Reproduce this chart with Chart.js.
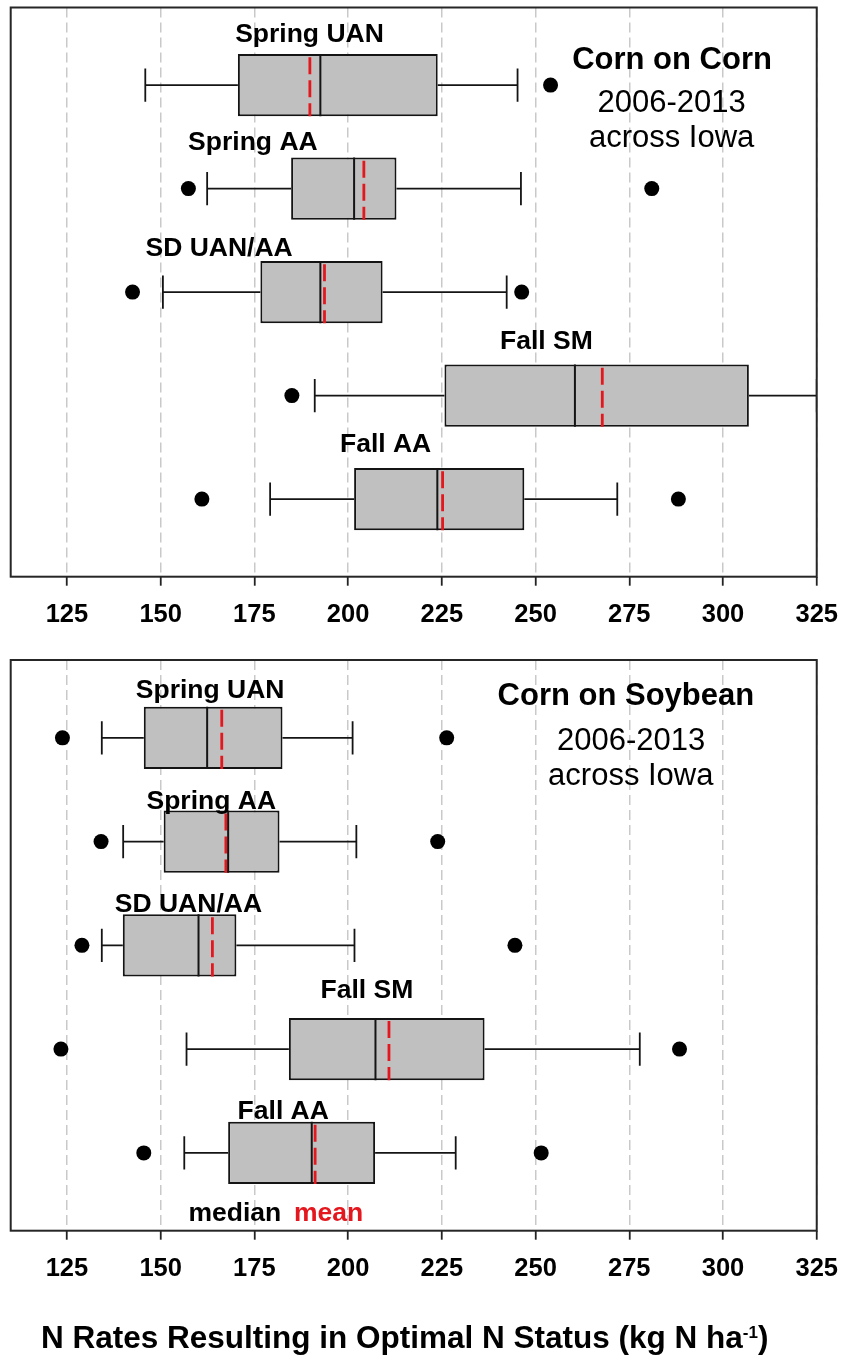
<!DOCTYPE html>
<html>
<head>
<meta charset="utf-8">
<title>N Rates Resulting in Optimal N Status</title>
<script src="https://cdn.jsdelivr.net/npm/chart.js@4/dist/chart.umd.min.js"></script>
<style>
  html, body { margin: 0; padding: 0; background: #ffffff; }
  #wrap { position: relative; width: 852px; height: 1356px; overflow: hidden; }
  #cc { position: absolute; left: 0; top: 0; }
  #cs { position: absolute; left: 0; top: 640px; }
  #xtitle {
    position: absolute; left: 41px; top: 1322px; white-space: nowrap;
    font: bold 31.5px "Liberation Sans", Arial, sans-serif; line-height: 31px; color: #000;
  }
  #xtitle sup { font-size: 17px; line-height: 0; vertical-align: 10px; }
</style>
</head>
<body>
<div id="wrap">
  <canvas id="cc" width="852" height="640"></canvas>
  <canvas id="cs" width="852" height="716"></canvas>
  <div id="xtitle">N Rates Resulting in Optimal N Status (kg N ha<sup>-1</sup>)</div>
</div>
<script>
// ---- axis ----
const X_MIN = 110;
const X_MAX = 325;
const tickValues = [125, 150, 175, 200, 225, 250, 275, 300, 325];
const treatments = ['Spring UAN', 'Spring AA', 'SD UAN/AA', 'Fall SM', 'Fall AA'];

// ---- Corn on Corn (kg N/ha) ----
const ccWhiskerLow  = [145.9, 162.4, 150.6, 191.1, 179.2];
const ccQ1          = [170.6, 184.8, 176.6, 225.7, 201.6];
const ccMedian      = [192.6, 201.6, 192.6, 260.5, 223.8];
const ccMean        = [189.8, 204.2, 193.7, 267.8, 225.2];
const ccQ3          = [223.9, 212.9, 209.2, 306.9, 247.0];
const ccWhiskerHigh = [245.2, 246.1, 242.3, 325.0, 271.8];
const ccOutliers    = [[254.0], [157.4, 281.0], [142.5, 246.3], [185.0], [161.0, 288.1]];

// ---- Corn on Soybean (kg N/ha) ----
const csWhiskerLow  = [134.3, 140.0, 134.3, 156.9, 156.3];
const csQ1          = [145.5, 150.8, 139.9, 184.2, 168.0];
const csMedian      = [162.4, 168.0, 160.1, 207.3, 190.3];
const csMean        = [166.3, 167.4, 163.8, 210.9, 191.2];
const csQ3          = [182.5, 181.7, 170.2, 236.4, 207.2];
const csWhiskerHigh = [201.2, 202.2, 201.7, 277.8, 228.7];
const csOutliers    = [[123.8, 226.3], [134.1, 223.9], [129.0, 244.5], [123.4, 288.4], [145.5, 251.5]];

const FONT = '"Liberation Sans", Arial, sans-serif';
const RED = '#e3171d';
const INK = '#141414';
Chart.defaults.font.family = FONT;

const BOX_HALF = 0.3;   // half box height in row units
const CAP_HALF = 0.16;  // half whisker-cap height in row units

function seg(x1, y1, x2, y2, color, width, dash) {
  return {
    type: 'scatter', showLine: true,
    data: [{ x: x1, y: y1 }, { x: x2, y: y2 }],
    borderColor: color, borderWidth: width, borderDash: dash || [],
    pointRadius: 0, pointHoverRadius: 0, order: 0
  };
}

function boxDatasets(s) {
  const ds = [];
  // boxes: floating horizontal bars from Q1 to Q3
  ds.push({
    type: 'bar', indexAxis: 'y',
    data: s.q1.map((v, i) => ({ x: [v, s.q3[i]], y: i })),
    backgroundColor: '#c0c0c0', borderColor: INK, borderWidth: 2,
    borderSkipped: false, barPercentage: 0.6, categoryPercentage: 1, order: 5
  });
  treatments.forEach((_, i) => {
    // whiskers and caps
    ds.push(seg(s.lo[i], i, s.q1[i], i, INK, 1.7));
    ds.push(seg(s.q3[i], i, s.hi[i], i, INK, 1.7));
    ds.push(seg(s.lo[i], i - CAP_HALF, s.lo[i], i + CAP_HALF, INK, 1.8));
    ds.push(seg(s.hi[i], i - CAP_HALF, s.hi[i], i + CAP_HALF, INK, 1.8));
    // median (solid black) and mean (dashed red)
    ds.push(seg(s.med[i], i - BOX_HALF, s.med[i], i + BOX_HALF, INK, 2));
    ds.push(seg(s.mean[i], i - BOX_HALF + 0.03, s.mean[i], i + BOX_HALF, RED, 2.8, [17, 6]));
  });
  // outliers
  ds.push({
    type: 'scatter',
    data: s.out.flatMap((arr, i) => arr.map(v => ({ x: v, y: i }))),
    pointRadius: 7.5, pointHoverRadius: 7.5, pointBackgroundColor: '#000',
    pointBorderWidth: 0, showLine: false, order: 0
  });
  return ds;
}

// text placed in data coordinates
const panelText = {
  id: 'panelText',
  afterDatasetsDraw(chart, args, opts) {
    const { ctx, scales: { x, y } } = chart;
    ctx.save();
    ctx.textAlign = 'center';
    ctx.textBaseline = 'alphabetic';
    for (const t of opts.items) {
      ctx.font = (t.bold ? 'bold ' : '') + t.size + 'px ' + FONT;
      ctx.fillStyle = t.color || '#000';
      ctx.fillText(t.text, x.getPixelForValue(t.x), y.getPixelForValue(t.y));
    }
    ctx.restore();
  }
};

// frame around the plotting area
const plotFrame = {
  id: 'plotFrame',
  afterDatasetsDraw(chart) {
    const { ctx, chartArea: a } = chart;
    ctx.save();
    ctx.strokeStyle = '#262626';
    ctx.lineWidth = 2;
    ctx.strokeRect(a.left, a.top, a.right - a.left, a.bottom - a.top);
    ctx.restore();
  }
};

function makePanel(id, stats, labels, padTop, axisHeight) {
  return new Chart(document.getElementById(id), {
    type: 'scatter',
    data: { datasets: boxDatasets(stats) },
    options: {
      responsive: false, animation: false, devicePixelRatio: 1,
      layout: { padding: { left: 10.7, right: 26.3, top: padTop, bottom: 0 } },
      scales: {
        x: {
          type: 'linear', min: X_MIN, max: X_MAX, offset: false,
          afterBuildTicks: s => { s.ticks = tickValues.map(v => ({ value: v })); },
          afterFit: s => { s.height = axisHeight; },
          grid: {
            color: '#c9c9c9', lineWidth: 1.5, offset: false,
            tickColor: '#222', tickWidth: 1.8, tickLength: 9, tickBorderDash: []
          },
          border: { display: false, dash: [10, 5] },
          ticks: {
            color: '#000', padding: 14, maxRotation: 0, autoSkip: false,
            font: { size: 25.5, weight: 'bold' }
          }
        },
        y: {
          type: 'linear', display: false, reverse: true, offset: false,
          grid: { offset: false }, min: -0.75, max: 4.75,
          // one tick per treatment row
          afterBuildTicks: s => { s.ticks = treatments.map((_, i) => ({ value: i })); }
        }
      },
      plugins: {
        legend: { display: false },
        tooltip: { enabled: false },
        panelText: { items: labels }
      }
    },
    plugins: [panelText, plotFrame]
  });
}

makePanel('cc', {
  lo: ccWhiskerLow, q1: ccQ1, med: ccMedian, mean: ccMean, q3: ccQ3, hi: ccWhiskerHigh, out: ccOutliers
}, [
  { text: treatments[0], x: 189.7, y: -0.413, size: 26.5, bold: true },
  { text: treatments[1], x: 174.6, y: 0.631, size: 26.5, bold: true },
  { text: treatments[2], x: 165.6, y: 1.652, size: 26.5, bold: true },
  { text: treatments[3], x: 252.9, y: 2.551, size: 26.5, bold: true },
  { text: treatments[4], x: 210.0, y: 3.543, size: 26.5, bold: true },
  { text: 'Corn on Corn', x: 286.4, y: -0.157, size: 31, bold: true },
  { text: '2006-2013', x: 286.3, y: 0.255, size: 31 },
  { text: 'across Iowa', x: 286.3, y: 0.599, size: 31 }
], 6.7, 63.3);

makePanel('cs', {
  lo: csWhiskerLow, q1: csQ1, med: csMedian, mean: csMean, q3: csQ3, hi: csWhiskerHigh, out: csOutliers
}, [
  { text: treatments[0], x: 163.2, y: -0.381, size: 26.5, bold: true },
  { text: treatments[1], x: 163.5, y: 0.690, size: 26.5, bold: true },
  { text: treatments[2], x: 157.4, y: 1.683, size: 26.5, bold: true },
  { text: treatments[3], x: 205.0, y: 2.503, size: 26.5, bold: true },
  { text: treatments[4], x: 182.7, y: 3.676, size: 26.5, bold: true },
  { text: 'Corn on Soybean', x: 274.1, y: -0.316, size: 31, bold: true },
  { text: '2006-2013', x: 275.5, y: 0.118, size: 31 },
  { text: 'across Iowa', x: 275.4, y: 0.455, size: 31 },
  { text: 'median', x: 169.8, y: 4.656, size: 26.5, bold: true },
  { text: 'mean', x: 194.8, y: 4.656, size: 26.5, bold: true, color: RED }
], 20, 125.3);
</script>
</body>
</html>
